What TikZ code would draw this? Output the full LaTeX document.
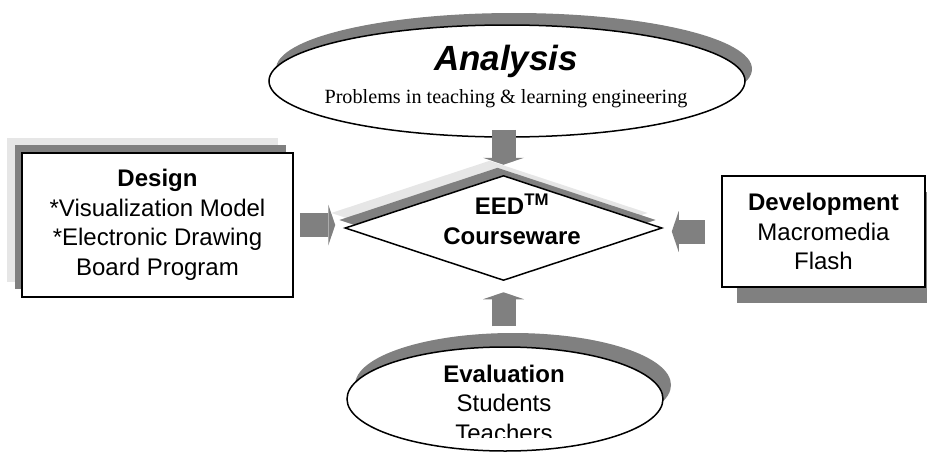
\documentclass[tikz,border=0pt]{standalone}
\usepackage{fontspec}
\setmainfont{Liberation Sans}
\newfontfamily\timesfont{Liberation Serif}
\usetikzlibrary{shapes.geometric,shadows,arrows.meta}
\definecolor{darkshade}{HTML}{808080}
\definecolor{lightshade}{HTML}{E6E6E6}
\begin{document}
\begin{tikzpicture}[
  x=1pt, y=-1pt,
  every node/.style = {font=\fontsize{24}{29.5}\selectfont, inner sep=0pt},
  outline/.style = {draw, line width=1.5pt, fill=white},
  oval/.style = {outline, ellipse},
  box/.style = {outline, rectangle, align=center, line width=1.8pt},
  rhombus/.style = {outline, diamond},
  castshadow/.style n args = {3}{general shadow={fill=#1, draw=none,
    shadow xshift=#2, shadow yshift=#3}},
  blockarrow/.style = {draw=darkshade, line width=24pt,
    -{Triangle[length=7pt, width=41pt, line width=0pt]}}
  ]
  \useasboundingbox (0,0) rectangle (927,453);

  % analysis
  \node[oval, minimum width=476pt, minimum height=112pt,
    castshadow={darkshade}{7pt}{12pt}] (analysis) at (507,81) {};
  \node[font=\fontsize{35}{40}\selectfont\bfseries\itshape, anchor=base]
    (analysistitle) at (506,70) {Analysis};
  \node[font=\timesfont\fontsize{20.2}{23}\selectfont, anchor=base]
    (analysistext) at (506,103) {Problems in teaching \& learning engineering};

  % design
  \node[box, minimum width=271pt, minimum height=144pt,
    castshadow={lightshade}{-15pt}{15pt},
    castshadow={darkshade}{-7pt}{8pt}] (design) at (157.5,225)
    {\textbf{Design}\\{}*Visualization Model\\{}*Electronic Drawing\\Board Program};

  % development
  \node[box, minimum width=203pt, minimum height=111pt,
    castshadow={darkshade}{15pt}{-16pt}] (development) at (823.5,231.5)
    {\textbf{Development}\\Macromedia\\Flash};

  % courseware
  \node[rhombus, minimum width=317pt, minimum height=105pt,
    castshadow={lightshade}{-14pt}{15pt},
    castshadow={darkshade}{-6pt}{8pt}] (eed) at (503.5,228) {};
  \node[font=\fontsize{24}{30}\selectfont\bfseries, align=center]
    (eedtext) at (512,219) {EED\textsuperscript{TM}\\Courseware};

  % evaluation
  \node[oval, minimum width=316pt, minimum height=104pt,
    castshadow={darkshade}{8pt}{14pt}] (evaluation) at (505,399) {};
  \begin{scope}
    \clip (340,340) rectangle (670,437.5);
    \node[align=center] (evaluationtext) at (504,403)
      {\textbf{Evaluation}\\Students\\Teachers};
  \end{scope}

  % arrows into the courseware
  \draw[blockarrow] ([yshift=8pt]analysis.south -| eed.north) -- ([yshift=10pt]eed.north);
  \draw[blockarrow] ([xshift=6pt]design.east) -- ([xshift=-9pt]eed.west |- design.east);
  \draw[blockarrow] ([xshift=-16pt]development.west) -- ([xshift=9pt]eed.east |- development.west);
  \draw[blockarrow] ([yshift=20pt]evaluation.north -| eed.south) -- ([yshift=-11pt]eed.south);
\end{tikzpicture}
\end{document}
